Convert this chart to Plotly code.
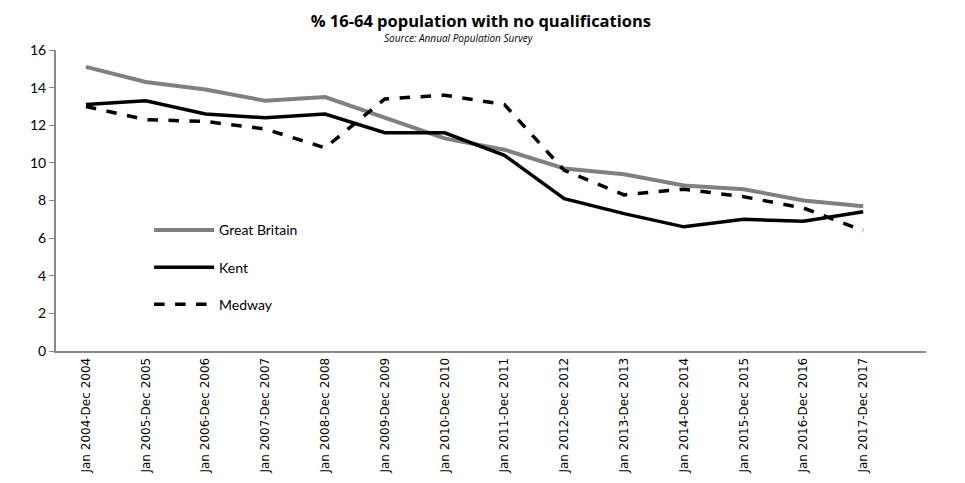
import plotly.graph_objects as go

# Périodes (axe des x)
periodes = [f"Jan {a}-Dec {a}" for a in range(2004, 2018)]

# Valeurs (%)
great_britain = [15.1, 14.3, 13.9, 13.3, 13.5, 12.4, 11.3, 10.7, 9.7, 9.4, 8.8, 8.6, 8.0, 7.7]
kent = [13.1, 13.3, 12.6, 12.4, 12.6, 11.6, 11.6, 10.4, 8.1, 7.3, 6.6, 7.0, 6.9, 7.4]
medway = [13.0, 12.3, 12.2, 11.8, 10.8, 13.4, 13.6, 13.1, 9.6, 8.3, 8.6, 8.2, 7.6, 6.4]

y_ticks = [0, 2, 4, 6, 8, 10, 12, 14, 16]

fig = go.Figure()
fig.add_trace(go.Scatter(x=periodes, y=great_britain, name="Great Britain", mode="lines",
                         legendgroup="gb", line=dict(color="#808080", width=4)))
fig.add_trace(go.Scatter(x=periodes, y=kent, name="Kent", mode="lines",
                         legendgroup="kent", line=dict(color="black", width=3.5)))
fig.add_trace(go.Scatter(x=periodes, y=medway, name="Medway", mode="lines",
                         legendgroup="medway", line=dict(color="black", width=3.5, dash="dash")))

# la page HTML ajoute une marge de 8 px autour de la figure
fig.update_layout(
    width=965, height=483,
    plot_bgcolor="white", paper_bgcolor="white",
    margin=dict(l=48, r=47, t=42, b=140),
    font=dict(family="Lato", color="black"),
    title=dict(text="<b>% 16-64 population with no qualifications</b>",
               x=0.49, xanchor="center", y=0.972, yanchor="middle",
               font=dict(size=16.5, family="Open Sans")),
    showlegend=True,
    legend=dict(x=0.107, y=0.454, xanchor="left", yanchor="top",
                bgcolor="rgba(0,0,0,0)", font=dict(size=14), tracegroupgap=16,
                itemwidth=60),
    annotations=[dict(text="<i>Source: Annual Population Survey</i>", xref="paper", yref="paper",
                      x=0.463, y=1.04, xanchor="center", yanchor="middle",
                      showarrow=False, font=dict(size=10, family="Open Sans"))],
)

fig.update_xaxes(range=[-0.5, 14.05], showline=True, linecolor="#888888", linewidth=2,
                 ticks="", tickangle=-90, showgrid=False, automargin=False,
                 tickfont=dict(family="DejaVu Sans", size=12))
fig.update_yaxes(range=[0, 16], tickvals=y_ticks, showline=True, linecolor="#888888",
                 linewidth=2, ticks="outside", ticklen=5, tickcolor="#888888",
                 showgrid=False, zeroline=False, automargin=False, tickfont=dict(size=14))

fig.write_html("out.html")
